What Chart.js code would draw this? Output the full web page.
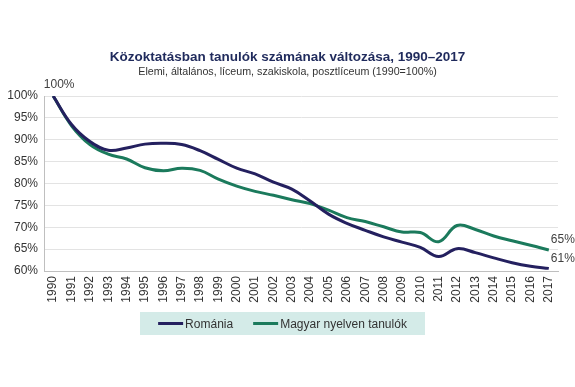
<!DOCTYPE html>
<html>
<head>
<meta charset="utf-8">
<script src="https://cdn.jsdelivr.net/npm/chart.js@4.4.0/dist/chart.umd.min.js"></script>
<style>
  html, body { margin: 0; padding: 0; background: #fff; }
  #wrap { width: 575px; height: 387px; }
</style>
</head>
<body>
<div id="wrap"><canvas id="chart" width="575" height="387"></canvas></div>
<script>
var years = ['1990','1991','1992','1993','1994','1995','1996','1997','1998','1999','2000','2001','2002','2003',
             '2004','2005','2006','2007','2008','2009','2010','2011','2012','2013','2014','2015','2016','2017'];
var romania = [100, 93.5, 89.6, 87.6, 88.1, 89.0, 89.2, 88.9, 87.5, 85.5, 83.5, 82.2, 80.3, 78.7,
               76.0, 73.0, 70.9, 69.3, 67.8, 66.6, 65.4, 63.3, 65.1, 64.2, 63.0, 61.9, 61.1, 60.6];
var magyar = [100, 93.2, 88.9, 86.7, 85.6, 83.6, 82.9, 83.5, 83.0, 81.0, 79.4, 78.2, 77.3, 76.3,
              75.4, 73.9, 72.2, 71.3, 70.1, 68.9, 68.8, 66.7, 70.4, 69.5, 68.0, 66.9, 65.9, 64.8];
var seriesNames = ['Románia', 'Magyar nyelven tanulók'];
var yTicks = [60, 65, 70, 75, 80, 85, 90, 95, 100];
var titleText = 'Közoktatásban tanulók számának változása, 1990–2017';
var subtitleText = 'Elemi, általános, líceum, szakiskola, posztlíceum (1990=100%)';

var navy = '#24205f';
var green = '#1b7a5c';
var font = 'Liberation Sans, Arial, sans-serif';

// title + subtitle centred on the whole canvas
var headings = {
  id: 'headings',
  afterDraw: function(chart) {
    var c = chart.ctx;
    c.save();
    c.textAlign = 'center';
    c.textBaseline = 'middle';
    c.fillStyle = '#1f2a5c';
    c.font = 'bold 13.5px ' + font;
    c.fillText(titleText, chart.width / 2, 57);
    c.fillStyle = '#333';
    c.font = '10.7px ' + font;
    c.fillText(subtitleText, chart.width / 2, 72);
    c.restore();
  }
};

// end labels: 100% over the first point, last values over the last points
var endLabels = {
  id: 'endLabels',
  afterDatasetsDraw: function(chart) {
    var c = chart.ctx;
    c.save();
    c.font = '12px ' + font;
    c.fillStyle = '#404040';
    c.textAlign = 'center';
    c.textBaseline = 'bottom';
    var first = chart.getDatasetMeta(0).data[0];
    c.fillText(Math.round(romania[0]) + '%', first.x + 6, first.y - 5);
    chart.data.datasets.forEach(function(ds, i) {
      var pts = chart.getDatasetMeta(i).data;
      var p = pts[pts.length - 1];
      c.fillText(Math.round(ds.data[ds.data.length - 1]) + '%', p.x + 14, p.y - 4);
    });
    c.restore();
  }
};

// legend on a light teal band
var boxLegend = {
  id: 'boxLegend',
  afterDraw: function(chart) {
    var c = chart.ctx;
    c.save();
    c.font = '12px ' + font;
    var lineLen = 25, gap = 2, itemGap = 20;
    var widths = chart.data.datasets.map(function(ds) { return lineLen + gap + c.measureText(ds.label).width; });
    var total = widths.reduce(function(a, b) { return a + b; }, 0) + itemGap;
    var boxW = 285, boxH = 23, boxX = 140, boxY = 312;
    c.fillStyle = '#d4ebe8';
    c.fillRect(boxX, boxY, boxW, boxH);
    var x = boxX + (boxW - total) / 2;
    var y = boxY + boxH / 2;
    chart.data.datasets.forEach(function(ds, i) {
      c.strokeStyle = ds.borderColor;
      c.lineWidth = 3;
      c.beginPath();
      c.moveTo(x, y);
      c.lineTo(x + lineLen, y);
      c.stroke();
      c.fillStyle = '#333';
      c.textAlign = 'left';
      c.textBaseline = 'middle';
      c.fillText(ds.label, x + lineLen + gap, y + 1);
      x += widths[i] + itemGap;
    });
    c.restore();
  }
};

new Chart(document.getElementById('chart'), {
  type: 'line',
  data: {
    labels: years,
    datasets: [
      { label: seriesNames[0], data: romania, borderColor: navy, backgroundColor: navy,
        borderWidth: 3, pointRadius: 0, tension: 0.4 },
      { label: seriesNames[1], data: magyar, borderColor: green, backgroundColor: green,
        borderWidth: 3, pointRadius: 0, tension: 0.4 }
    ]
  },
  options: {
    responsive: false,
    animation: false,
    layout: { padding: { left: 0, right: 17, top: 96, bottom: 0 } },
    plugins: {
      legend: { display: false },
      tooltip: { enabled: false }
    },
    scales: {
      x: {
        offset: true,
        grid: { display: false, drawTicks: false },
        border: { display: true, color: '#bfbfbf', width: 1 },
        ticks: {
          autoSkip: false, minRotation: 90, maxRotation: 90, padding: 5,
          color: '#333', font: { family: font, size: 12 }
        },
        afterFit: function(scale) { scale.height = 116; }
      },
      y: {
        min: 60, max: 100,
        afterBuildTicks: function(scale) { scale.ticks = yTicks.map(function(v) { return { value: v }; }); },
        grid: { color: '#e3e3e3', drawTicks: false },
        border: { display: true, color: '#bfbfbf', width: 1 },
        ticks: {
          padding: 6, color: '#333', font: { family: font, size: 12 },
          callback: function(v) { return v + '%'; }
        },
        afterFit: function(scale) { scale.width = 44; }
      }
    }
  },
  plugins: [headings, endLabels, boxLegend]
});
</script>
</body>
</html>
